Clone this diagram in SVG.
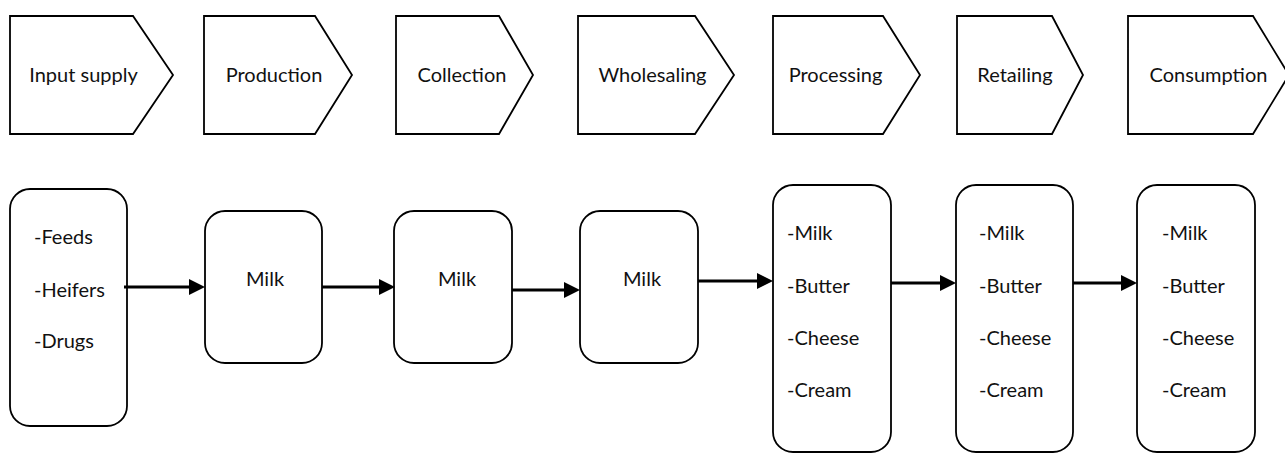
<svg xmlns="http://www.w3.org/2000/svg" width="1285" height="453" viewBox="0 0 1285 453">
<style>
.shape{fill:#fff;stroke:#000;stroke-width:1.8}
.lbl{font-family:Lato,"Open Sans","DejaVu Sans",sans-serif;font-size:20px;fill:#111}
.c{text-anchor:middle}
.conn{stroke:#000;stroke-width:3;fill:none}
</style>
<defs>
<marker id="ah" markerUnits="userSpaceOnUse" markerWidth="16" markerHeight="18" refX="1" refY="8" orient="auto">
<path d="M0,0 L16,8 L0,16 Z" fill="#000"/>
</marker>
</defs>
<rect width="1285" height="453" fill="#fff"/>
<g id="stage-input-supply"><path class="shape" d="M10,16 H133 L173,75 L133,134 H10 Z"/><text class="lbl c" x="83.5" y="82">Input supply</text></g>
<g id="stage-production"><path class="shape" d="M204,16 H315 L352,75 L315,134 H204 Z"/><text class="lbl c" x="274" y="82">Production</text></g>
<g id="stage-collection"><path class="shape" d="M396,16 H499 L533,75 L499,134 H396 Z"/><text class="lbl c" x="462" y="82">Collection</text></g>
<g id="stage-wholesaling"><path class="shape" d="M578,16 H695 L734,75 L695,134 H578 Z"/><text class="lbl c" x="652.5" y="82">Wholesaling</text></g>
<g id="stage-processing"><path class="shape" d="M773,16 H883 L920,75 L883,134 H773 Z"/><text class="lbl c" x="835.5" y="82">Processing</text></g>
<g id="stage-retailing"><path class="shape" d="M957,16 H1052 L1083,75 L1052,134 H957 Z"/><text class="lbl c" x="1015" y="82">Retailing</text></g>
<g id="stage-consumption"><path class="shape" d="M1128,16 H1253 L1289,75 L1253,134 H1128 Z"/><text class="lbl c" x="1208.5" y="82">Consumption</text></g>

<g id="box-inputs"><rect class="shape" x="10" y="189" width="117" height="237" rx="20"/>
<text class="lbl" x="34" y="244">-Feeds</text>
<text class="lbl" x="34" y="297">-Heifers</text>
<text class="lbl" x="34" y="348">-Drugs</text></g>
<g id="box-production"><rect class="shape" x="205" y="211" width="117" height="152" rx="20"/><text class="lbl c" x="265" y="286">Milk</text></g>
<g id="box-collection"><rect class="shape" x="394" y="211" width="118" height="152" rx="20"/><text class="lbl c" x="457" y="286">Milk</text></g>
<g id="box-wholesaling"><rect class="shape" x="580" y="211" width="118" height="152" rx="20"/><text class="lbl c" x="642" y="286">Milk</text></g>
<g id="box-processing"><rect class="shape" x="773" y="185" width="118" height="267" rx="20"/>
<text class="lbl" x="787" y="240">-Milk</text><text class="lbl" x="787" y="293">-Butter</text><text class="lbl" x="787" y="345">-Cheese</text><text class="lbl" x="787" y="397">-Cream</text></g>
<g id="box-retailing"><rect class="shape" x="956" y="185" width="117" height="267" rx="20"/>
<text class="lbl" x="979" y="240">-Milk</text><text class="lbl" x="979" y="293">-Butter</text><text class="lbl" x="979" y="345">-Cheese</text><text class="lbl" x="979" y="397">-Cream</text></g>
<g id="box-consumption"><rect class="shape" x="1137" y="185" width="118" height="267" rx="20"/>
<text class="lbl" x="1162" y="240">-Milk</text><text class="lbl" x="1162" y="293">-Butter</text><text class="lbl" x="1162" y="345">-Cheese</text><text class="lbl" x="1162" y="397">-Cream</text></g>

<g id="connectors">
<path class="conn" d="M124,287 H190" marker-end="url(#ah)"/>
<path class="conn" d="M322,287 H380" marker-end="url(#ah)"/>
<path class="conn" d="M512,290 H565" marker-end="url(#ah)"/>
<path class="conn" d="M698,281 H758" marker-end="url(#ah)"/>
<path class="conn" d="M891,283 H941" marker-end="url(#ah)"/>
<path class="conn" d="M1073,283 H1122" marker-end="url(#ah)"/>
</g>
</svg>
